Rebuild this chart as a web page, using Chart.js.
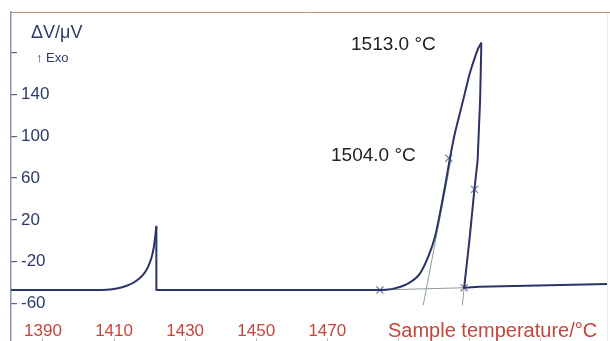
<!DOCTYPE html>
<html>
<head>
<meta charset="utf-8">
<script src="https://cdn.jsdelivr.net/npm/chart.js@4"></script>
<style>
  html, body { margin: 0; padding: 0; background: #fff; overflow: hidden; }
</style>
</head>
<body>
<canvas id="dtaChart" width="610" height="341"></canvas>
<script>
// DTA curve, sample temperature (°C) vs signal (µV)
const curveTemp = [1381, 1406.5, 1409.5, 1412.0, 1414.5, 1416.5, 1418.2, 1419.5, 1420.5, 1421.2, 1421.9,
    1421.9, 1484.8,
    1486.5, 1489.0, 1492.8, 1496.1, 1498.4, 1500.3, 1501.7, 1503.1, 1504.5, 1505.9, 1507.3,
    1508.7, 1510.1, 1511.6, 1512.5, 1513.3,
    1513.3, 1513.0, 1512.3, 1511.4, 1510.0, 1508.5,
    1512.8, 1548.7];
const curveSignal = [-47.2, -47.2, -46.5, -44.8, -41.8, -37.8, -32.5, -25.5, -16.5, -6, 13.4,
    -47.2, -47.2,
    -47.0, -45.6, -40.8, -31.2, -15.3, 3.9, 26.3, 51.7, 78.9, 102.9, 122,
    141.2, 160.3, 176.2, 184.5, 189,
    182, 134.7, 77.3, 49.2, 0.7, -45,
    -44, -41.4];
// [first index, last index, smooth]
const curveParts = [[0, 10, true], [10, 12, false], [12, 28, true], [28, 34, false], [34, 36, false]];

// evaluation marks (x) and tangents
const markTemp = [1484.8, 1504.2, 1511.4, 1508.5];
const markSignal = [-47.2, 79, 49.2, -45];
const baseTangentTemp = [1484.8, 1508.5];
const baseTangentSignal = [-47.2, -45];
const riseTangentTemp = [1497.0, 1504.8];
const riseTangentSignal = [-61.5, 77.3];
const fallTangentTemp = [1508.0, 1511.4];
const fallTangentSignal = [-61.5, 49.2];

const xTicks = [1390, 1410, 1430, 1450, 1470, 1490, 1510, 1530];
const xTickLabels = ['1390', '1410', '1430', '1450', '1470', '', '', ''];
const yTicks = [-60, -20, 20, 60, 100, 140, 180];
const yTickLabels = ['-60', '-20', '20', '60', '100', '140', ''];

const FONT = "'Liberation Sans', Arial, sans-serif";
const navy = '#2c3a6a';
const red = '#c4453c';
const curveColor = '#2b3468';
const tangentColor = '#8a9c94';

function pts(xs, ys) {
    return xs.map((x, i) => ({x: x, y: ys[i]}));
}

function lineSet(data, color, width, smooth) {
    return {
        data: data,
        showLine: true,
        borderColor: color,
        borderWidth: width,
        borderCapStyle: 'round',
        borderJoinStyle: 'round',
        pointRadius: 0,
        cubicInterpolationMode: smooth ? 'monotone' : 'default',
        tension: 0
    };
}

const curvePoints = pts(curveTemp, curveSignal);
const datasets = curveParts.map(p => {
    let d = lineSet(curvePoints.slice(p[0], p[1] + 1), curveColor, 2, p[2]);
    d.order = 0;
    return d;
});
datasets.push({
    data: pts(markTemp, markSignal),
    showLine: false,
    pointStyle: 'crossRot',
    pointRadius: 5,
    borderColor: '#6f7f9c',
    borderWidth: 1.2,
    order: 1
});
[[baseTangentTemp, baseTangentSignal], [riseTangentTemp, riseTangentSignal], [fallTangentTemp, fallTangentSignal]]
    .forEach(t => {
        let d = lineSet(pts(t[0], t[1]), tangentColor, 1, false);
        d.order = 2;
        datasets.push(d);
    });

const decor = {
    id: 'decor',
    beforeDatasetsDraw(chart) {
        const c = chart.ctx;
        const a = chart.chartArea;
        c.save();
        c.strokeStyle = '#bf8f88';
        c.lineWidth = 1;
        c.beginPath();
        c.moveTo(a.left, 12.5);
        c.lineTo(chart.width, 12.5);
        c.stroke();
        c.strokeStyle = '#ececec';
        c.beginPath();
        c.moveTo(607.5, 13);
        c.lineTo(607.5, chart.height);
        c.stroke();
        c.restore();
    },
    afterDraw(chart) {
        const c = chart.ctx;
        const xs = chart.scales.x;
        c.save();
        c.textBaseline = 'middle';
        c.textAlign = 'center';
        c.fillStyle = red;
        c.font = '17px ' + FONT;
        xTicks.forEach((v, i) => {
            if (xTickLabels[i]) c.fillText(xTickLabels[i], xs.getPixelForValue(v), 331);
        });
        c.textAlign = 'left';
        c.font = '20px ' + FONT;
        c.fillText('Sample temperature/°C', 388, 331);
        c.fillStyle = navy;
        c.font = '18px ' + FONT;
        c.fillText('ΔV/μV', 31, 33);
        c.font = '13px ' + FONT;
        c.fillText('↑ Exo', 36, 58);
        c.fillStyle = '#222';
        c.font = '19px ' + FONT;
        c.fillText('1513.0 °C', 351, 45);
        c.fillText('1504.0 °C', 331, 156);
        c.restore();
    }
};

const ctx = document.getElementById('dtaChart');

new Chart(ctx, {
    type: 'scatter',
    data: {datasets: datasets},
    options: {
        responsive: false,
        devicePixelRatio: 1,
        animation: false,
        layout: {autoPadding: false, padding: {left: 11, top: 12, right: 3, bottom: 0}},
        plugins: {legend: {display: false}, tooltip: {enabled: false}},
        scales: {
            x: {
                type: 'linear',
                min: 1381,
                max: 1548.7,
                afterBuildTicks: (s) => { s.ticks = xTicks.map(v => ({value: v})); },
                afterFit: (s) => { s.height = 0; s.paddingLeft = 0; s.paddingRight = 0; },
                grid: {display: true, drawOnChartArea: false, drawTicks: true, tickLength: -3, color: '#b8b8b8'},
                border: {display: false},
                ticks: {display: false}
            },
            y: {
                type: 'linear',
                min: -96,
                max: 219,
                afterBuildTicks: (s) => { s.ticks = yTicks.map(v => ({value: v})); },
                afterFit: (s) => { s.width = 0; s.paddingTop = 0; s.paddingBottom = 0; },
                grid: {display: true, drawOnChartArea: false, drawTicks: true, tickLength: -6, color: '#56628a', lineWidth: 1.2},
                border: {display: true, color: '#8796b5', width: 1.5},
                ticks: {
                    mirror: true,
                    padding: 10,
                    color: navy,
                    font: {family: FONT, size: 17},
                    callback: (v) => yTickLabels[yTicks.indexOf(v)]
                }
            }
        }
    },
    plugins: [decor]
});
</script>
</body>
</html>
